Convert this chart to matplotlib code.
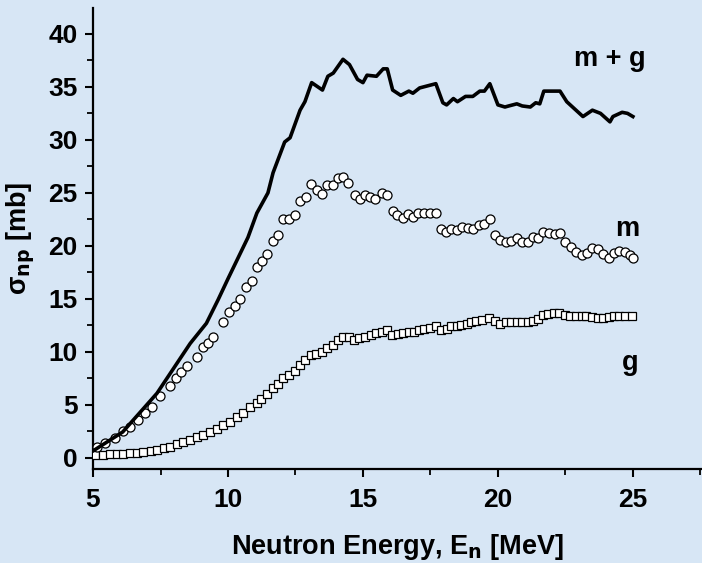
import numpy as np
import matplotlib.pyplot as plt
from matplotlib.ticker import MultipleLocator

plt.rcParams['font.family'] = ['Liberation Sans', 'DejaVu Sans']
plt.rcParams['font.weight'] = 'bold'

# total cross section (m + g), solid line
e_sum = [4.9, 6.1, 7.37, 8.6, 9.2, 9.63, 10.0, 10.74, 11.07, 11.48, 11.67, 12.1, 12.3,
         12.67, 12.85, 13.1, 13.5, 13.7, 13.9, 14.26, 14.5, 14.8, 15.0, 15.15, 15.5,
         15.75, 15.9, 16.1, 16.4, 16.7, 16.85, 17.1, 17.4, 17.7, 17.96, 18.1, 18.35,
         18.5, 18.8, 19.07, 19.33, 19.5, 19.7, 20.0, 20.26, 20.4, 20.7, 20.9, 21.2,
         21.4, 21.55, 21.7, 22.3, 22.55, 23.15, 23.5, 23.8, 24.15, 24.26, 24.6, 24.8, 25.0]
sig_sum = [0.5, 2.45, 6.1, 10.8, 12.7, 14.9, 16.9, 20.8, 23.1, 25.0, 26.9, 29.8, 30.2,
           32.8, 33.6, 35.4, 34.7, 36.0, 36.3, 37.6, 37.1, 35.7, 35.4, 36.1, 36.0,
           36.7, 36.7, 34.7, 34.2, 34.6, 34.4, 34.9, 35.1, 35.3, 33.5, 33.3, 33.9,
           33.6, 34.1, 34.1, 34.6, 34.6, 35.3, 33.3, 33.1, 33.2, 33.4, 33.2, 33.1,
           33.5, 33.4, 34.6, 34.6, 33.6, 32.2, 32.8, 32.5, 31.7, 32.2, 32.6, 32.5, 32.2]

# metastable state (m), open circles
e_m = [5.15, 5.44, 5.8, 6.1, 6.37, 6.67, 6.93, 7.18, 7.48, 7.85, 8.07, 8.26, 8.48, 8.85,
       9.07, 9.26, 9.44, 9.8, 10.04, 10.26, 10.44, 10.67, 10.9, 11.07, 11.26, 11.45,
       11.67, 11.85, 12.04, 12.26, 12.48, 12.67, 12.9, 13.07, 13.3, 13.48, 13.67, 13.9,
       14.07, 14.26, 14.45, 14.7, 14.9, 15.07, 15.26, 15.44, 15.7, 15.9, 16.1, 16.26,
       16.48, 16.67, 16.85, 17.04, 17.26, 17.48, 17.7, 17.9, 18.07, 18.26, 18.48, 18.67,
       18.9, 19.07, 19.3, 19.48, 19.7, 19.9, 20.07, 20.3, 20.5, 20.7, 20.9, 21.1, 21.3,
       21.5, 21.67, 21.9, 22.1, 22.3, 22.5, 22.7, 22.9, 23.1, 23.3, 23.5, 23.7, 23.9,
       24.1, 24.3, 24.5, 24.7, 24.9, 25.0]
sig_m = [1.0, 1.4, 1.9, 2.5, 2.9, 3.6, 4.2, 4.8, 5.8, 6.8, 7.5, 8.1, 8.7, 9.5,
         10.5, 10.8, 11.4, 12.8, 13.8, 14.3, 15.0, 16.1, 16.7, 18.0, 18.6, 19.2,
         20.5, 21.0, 22.5, 22.5, 22.9, 24.2, 24.6, 25.8, 25.3, 24.9, 25.7, 25.7,
         26.4, 26.5, 25.9, 24.8, 24.4, 24.8, 24.6, 24.4, 25.0, 24.8, 23.3, 22.9,
         22.6, 23.0, 22.7, 23.1, 23.1, 23.1, 23.1, 21.6, 21.3, 21.6, 21.5, 21.8,
         21.7, 21.6, 22.0, 22.1, 22.5, 21.0, 20.6, 20.4, 20.5, 20.7, 20.4, 20.4, 20.8,
         20.7, 21.3, 21.2, 21.1, 21.2, 20.4, 19.9, 19.4, 19.1, 19.3, 19.8, 19.7, 19.2,
         18.9, 19.3, 19.5, 19.4, 19.1, 18.9]

# ground state (g), open squares
e_g = [5.07, 5.38, 5.63, 5.88, 6.12, 6.37, 6.62, 6.86, 7.14, 7.36, 7.63, 7.85, 8.1,
       8.34, 8.59, 8.84, 9.09, 9.33, 9.58, 9.83, 10.07, 10.32, 10.57, 10.81, 11.06,
       11.24, 11.43, 11.65, 11.86, 12.05, 12.27, 12.48, 12.67, 12.85, 13.06, 13.26,
       13.47, 13.68, 13.88, 14.06, 14.27, 14.48, 14.67, 14.86, 15.07, 15.28, 15.48,
       15.69, 15.88, 16.08, 16.28, 16.49, 16.7, 16.89, 17.09, 17.27, 17.48, 17.69,
       17.9, 18.1, 18.28, 18.47, 18.65, 18.84, 19.0, 19.2, 19.4, 19.68, 19.9, 20.07,
       20.3, 20.5, 20.7, 20.9, 21.1, 21.3, 21.47, 21.68, 21.86, 22.07, 22.26, 22.48,
       22.67, 22.9, 23.1, 23.28, 23.5, 23.7, 23.9, 24.1, 24.3, 24.5, 24.7, 24.95]
sig_g = [0.28, 0.28, 0.35, 0.38, 0.41, 0.44, 0.5, 0.6, 0.69, 0.78, 0.9, 1.07, 1.29,
         1.48, 1.7, 1.95, 2.17, 2.42, 2.7, 3.08, 3.42, 3.9, 4.2, 4.8, 5.16,
         5.6, 6.0, 6.6, 7.0, 7.5, 7.8, 8.2, 8.8, 9.2, 9.7, 9.8,
         10.0, 10.4, 10.7, 11.1, 11.4, 11.4, 11.1, 11.3, 11.4, 11.6, 11.8,
         11.9, 12.1, 11.6, 11.7, 11.8, 11.9, 11.9, 12.1, 12.2, 12.3, 12.4,
         12.1, 12.2, 12.4, 12.45, 12.55, 12.6, 12.8, 12.9, 13.0, 13.2, 12.9, 12.6,
         12.8, 12.8, 12.8, 12.8, 12.8, 12.9, 13.1, 13.5, 13.6, 13.7, 13.65, 13.5,
         13.4, 13.4, 13.35, 13.35, 13.3, 13.2, 13.2, 13.3, 13.4, 13.4, 13.4, 13.4]

bg = '#d7e6f5'
fig = plt.figure(figsize=(7.02, 5.63), dpi=100, facecolor=bg)
ax = fig.add_axes([0.1325, 0.167, 0.8675, 0.819])
ax.set_facecolor(bg)

ax.plot(e_g, sig_g, 's', ms=5.2, mfc='white', mec='black', mew=0.9, zorder=3)
ax.plot(e_m, sig_m, 'o', ms=6.5, mfc='white', mec='black', mew=0.9, zorder=3)
ax.plot(e_sum, sig_sum, '-', color='black', lw=2.6, zorder=4)

ax.set_xlim(5, 27.56)
ax.set_ylim(-1.04, 42.45)
ax.xaxis.set_major_locator(MultipleLocator(5))
ax.xaxis.set_minor_locator(MultipleLocator(2.5))
ax.yaxis.set_major_locator(MultipleLocator(5))
ax.yaxis.set_minor_locator(MultipleLocator(2.5))

for side in ('top', 'right'):
    ax.spines[side].set_visible(False)
for side in ('left', 'bottom'):
    ax.spines[side].set_linewidth(1.6)

ax.tick_params(which='major', direction='out', length=6, width=1.5,
               labelsize=19, pad=5)
ax.tick_params(axis='x', which='major', pad=8)
ax.tick_params(which='minor', direction='out', length=4, width=1.3)
for lab in ax.get_xticklabels() + ax.get_yticklabels():
    lab.set_fontweight('bold')

ax.set_xlabel('Neutron Energy, E$_\\mathbf{n}$ [MeV]', fontsize=19.5, fontweight='bold', labelpad=14)
ax.set_ylabel('σ$_\\mathbf{np}$ [mb]', fontsize=19.5, fontweight='bold', labelpad=8)

ax.text(24.15, 37.6, 'm + g', fontsize=19.5, fontweight='bold', ha='center', va='center')
ax.text(24.8, 21.6, 'm', fontsize=19.5, fontweight='bold', ha='center', va='center')
ax.text(24.9, 9.0, 'g', fontsize=19.5, fontweight='bold', ha='center', va='center')

fig.savefig('out.png', dpi=100, facecolor=bg)
